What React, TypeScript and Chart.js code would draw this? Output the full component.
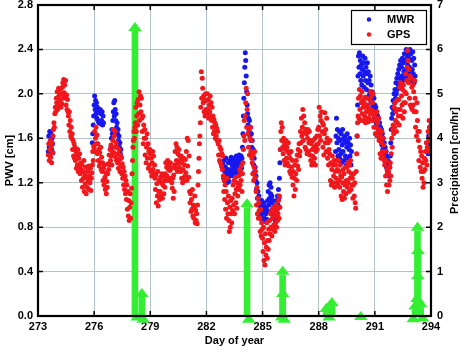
import { useEffect, useRef } from 'react';
import { Chart, registerables } from 'chart.js';

Chart.register(...registerables);

// ---- data -----------------------------------------------------------------

// GPS precipitable water vapour [cm], one sample every 0.025 day from day 273.55
const GPS_FIRST_DAY = 273.55;
const GPS_STEP = 0.025;
const gpsPwv = [
  // 273
  1.45, 1.55, 1.40, 1.50, 1.58, 1.43, 1.52, 1.38, 1.56, 1.47, 1.62,
  1.68, 1.74, 1.70, 1.82, 1.88, 1.84, 1.96,
  // 274
  1.92, 2.02, 1.86, 1.97, 2.05, 1.89, 1.99, 1.94, 2.04, 1.88, 2.00, 1.91, 2.06,
  2.10, 1.96, 2.13, 2.01, 2.08, 1.98, 2.12,
  1.90, 1.99, 1.86, 1.95, 1.84,
  1.80, 1.72, 1.84, 1.66, 1.76, 1.62, 1.70, 1.60,
  1.64, 1.50, 1.58, 1.44, 1.55, 1.42, 1.52,
  // 275
  1.40, 1.48, 1.33, 1.45, 1.36, 1.50, 1.30, 1.42, 1.35, 1.46, 1.28, 1.38, 1.32,
  1.22, 1.36, 1.16, 1.30, 1.24, 1.40, 1.12, 1.27, 1.19, 1.34, 1.10, 1.25,
  1.16, 1.30, 1.22, 1.35, 1.14, 1.26, 1.20, 1.33, 1.13, 1.24, 1.29,
  1.36, 1.48, 1.40, 1.53,
  // 276
  1.52, 1.66, 1.48, 1.60, 1.70, 1.55, 1.63,
  1.46, 1.55, 1.40, 1.50, 1.35, 1.47, 1.38, 1.52, 1.32, 1.43,
  1.30, 1.38, 1.22, 1.33, 1.18, 1.36, 1.25, 1.14, 1.29, 1.10, 1.21, 1.16,
  1.28, 1.37, 1.32, 1.45, 1.36, 1.50, 1.40, 1.54, 1.44, 1.36, 1.48,
  // 277
  1.58, 1.68, 1.47, 1.62, 1.52, 1.66, 1.43, 1.56, 1.40,
  1.52, 1.38, 1.46, 1.33, 1.50, 1.41, 1.30, 1.45, 1.35, 1.42, 1.28, 1.37,
  1.24, 1.34, 1.18, 1.30, 1.14, 1.26, 1.10, 1.22,
  1.05, 1.18, 0.96, 1.12, 0.90, 1.04, 0.86, 0.98, 1.10, 0.88, 1.02,
  // 278
  1.15, 1.28, 1.40, 1.52,
  1.58, 1.66, 1.60, 1.70,
  1.74, 1.88, 1.66, 1.80, 1.92, 1.72,
  1.95, 1.82, 2.02, 1.76, 1.90, 1.98, 1.84, 1.96, 1.78,
  1.66, 1.80, 1.55, 1.72, 1.60, 1.68,
  1.45, 1.60, 1.38, 1.52, 1.64, 1.42, 1.55, 1.33, 1.48, 1.36, 1.50,
  // 279
  1.46, 1.30, 1.42, 1.26, 1.38, 1.48, 1.32, 1.44, 1.28, 1.36, 1.24,
  1.14, 1.27, 1.02, 1.19, 1.08, 1.30, 0.99, 1.12, 1.22, 1.05,
  1.12, 1.25, 1.08, 1.20, 1.28, 1.06, 1.18, 1.26, 1.10, 1.22, 1.16,
  1.28, 1.38, 1.22, 1.34, 1.26, 1.40, 1.24, 1.32,
  // 280
  1.36, 1.22, 1.31, 1.38, 1.24, 1.33, 1.20,
  1.15, 1.24, 1.06, 1.27, 1.12,
  1.36, 1.48, 1.33, 1.55, 1.40, 1.52, 1.30, 1.46, 1.38, 1.50, 1.34, 1.44, 1.40,
  1.30, 1.44, 1.24, 1.38, 1.20, 1.32, 1.42, 1.22, 1.36, 1.26, 1.41,
  1.29, 1.48, 1.22, 1.60,
  // 281
  1.35, 1.58, 1.25, 1.44,
  1.12, 1.02, 1.10, 0.94, 1.05, 0.96, 1.14, 0.90, 1.00, 0.88, 0.98, 1.08, 0.84, 0.95, 0.86, 0.92, 0.83,
  1.00, 1.18, 1.30, 1.42, 1.55, 1.62, 1.74,
  1.88, 2.20, 1.96, 2.14, 2.05, 1.92,
  1.98, 1.84, 1.94, 1.80, 2.00, 1.86,
  // 282
  1.94, 1.82, 2.00, 1.86, 1.95, 1.78, 1.90, 1.84, 1.98, 1.80, 1.92, 1.76, 1.88,
  1.70, 1.80, 1.64, 1.77, 1.66, 1.74, 1.60, 1.72, 1.62, 1.69, 1.58, 1.66,
  1.55, 1.45, 1.58, 1.40, 1.52, 1.38, 1.50, 1.35, 1.46, 1.32, 1.44,
  1.26, 1.12, 1.22, 1.05,
  // 283
  1.18, 0.96, 1.12, 0.88, 1.24, 1.02, 0.92, 1.08,
  0.86, 0.76, 0.98, 0.80, 1.04, 0.92, 0.84,
  1.06, 0.95, 1.18, 1.00, 1.22, 0.92, 1.10, 1.25, 1.02, 1.14, 0.97, 1.20, 1.08, 1.16,
  1.26, 1.14, 1.32, 1.18, 1.30, 1.22, 1.35, 1.12, 1.28,
  1.38, 1.50,
  // 284
  1.62, 1.76, 1.58, 1.80,
  1.92, 2.05, 1.70, 1.86, 2.00, 1.64,
  1.52, 1.68, 1.45, 1.60, 1.70, 1.48, 1.58, 1.42,
  1.38, 1.28, 1.45, 1.22, 1.34, 1.48, 1.25, 1.30,
  1.12, 1.00, 1.16, 0.92, 1.06, 0.88, 1.02, 0.95,
  0.88, 0.76, 0.96, 0.72, 0.84, 0.78,
  // 285
  0.70, 0.58, 0.80, 0.50, 0.66, 0.46, 0.74, 0.55, 0.62, 0.84, 0.52, 0.68, 0.60,
  0.78, 0.68, 0.86, 0.74, 0.92, 0.80, 0.95, 0.72, 0.88, 0.78, 0.98, 0.82, 0.94, 0.76, 0.90, 0.84, 1.00, 0.80, 0.96, 0.86,
  0.92, 1.04, 0.88, 1.08, 0.98,
  1.50, 1.66,
  // 286
  1.74, 1.58, 1.70, 1.52,
  1.46, 1.60, 1.40, 1.55, 1.36, 1.50, 1.58, 1.42, 1.52, 1.38, 1.48, 1.56, 1.35,
  1.46, 1.30, 1.42, 1.28, 1.48, 1.34, 1.25, 1.40,
  1.18, 1.30, 1.08, 1.24, 1.36, 1.14, 1.28, 1.40, 1.22, 1.45,
  1.35, 1.50, 1.32, 1.55, 1.44,
  // 287
  1.48, 1.66, 1.56, 1.78, 1.62, 1.70, 1.86, 1.58, 1.80, 1.65, 1.74, 1.52, 1.68,
  1.50, 1.64, 1.46, 1.60, 1.68, 1.48, 1.56, 1.66, 1.45, 1.58,
  1.40, 1.55, 1.36, 1.50, 1.44, 1.58, 1.38, 1.52, 1.42, 1.60, 1.36, 1.48, 1.54,
  1.62, 1.50, 1.68, 1.55,
  // 288
  1.70, 1.88, 1.62, 1.80, 1.58, 1.76, 1.84, 1.66, 1.74,
  1.52, 1.72, 1.45, 1.64, 1.83, 1.56, 1.68, 1.48, 1.78, 1.60,
  1.42, 1.56, 1.36, 1.50, 1.46, 1.58,
  1.22, 1.38, 1.18, 1.32, 1.44, 1.20, 1.36, 1.26, 1.40, 1.16, 1.30,
  1.36, 1.24, 1.40, 1.20,
  // 289
  1.32, 1.18, 1.40, 1.22, 1.30, 1.16, 1.36, 1.26,
  1.08, 1.25, 1.05, 1.20, 1.32, 1.12, 1.28, 1.06, 1.18, 1.34, 1.10, 1.22,
  1.34, 1.16, 1.38, 1.20, 1.30, 1.12, 1.36, 1.24, 1.40, 1.14, 1.28, 1.18,
  1.24, 1.06, 1.18, 1.28, 1.08, 1.20, 1.02, 0.97,
  // 290
  1.30, 1.46, 1.62, 1.74,
  1.80, 1.96, 1.78, 2.04, 1.86, 1.98, 1.76, 1.92, 2.02, 1.82, 1.94, 1.88,
  1.76, 1.92, 1.80, 1.97, 1.74, 1.88, 1.84, 1.96, 1.78, 1.90, 1.75, 1.86,
  1.78, 1.95, 1.82, 2.02, 1.86, 1.98, 1.76, 1.92, 2.00, 1.84,
  1.70, 1.80,
  // 291
  1.82, 1.64, 1.76, 1.70, 1.84, 1.62, 1.74, 1.66, 1.78,
  1.58, 1.68, 1.46, 1.62, 1.42, 1.56, 1.66, 1.48, 1.60, 1.44, 1.54, 1.40,
  1.36, 1.48, 1.26, 1.40, 1.18, 1.32, 1.12, 1.28,
  1.30, 1.18, 1.34, 1.22, 1.38, 1.26,
  1.46, 1.60, 1.52, 1.68, 1.72,
  // 292
  1.64, 1.88, 1.70, 1.92, 1.76, 1.84, 1.66, 1.94, 1.74, 1.86, 1.80, 1.95, 1.72,
  2.06, 1.86, 2.10, 1.80, 1.98, 1.90, 2.04, 1.78, 2.08, 1.92, 1.84, 2.02,
  1.92, 2.18, 2.00, 2.12, 2.24, 2.39, 2.30, 2.10, 2.22, 1.96, 2.16, 1.90,
  2.14, 1.88, 2.06,
  // 293
  1.86, 2.08, 1.90, 2.02, 1.84, 2.12, 1.96,
  1.70, 1.84, 1.62, 1.92, 1.76, 1.66,
  1.58, 1.40, 1.66, 1.52, 1.34, 1.48, 1.30, 1.44,
  1.24, 1.38, 1.16, 1.30, 1.20, 1.42,
  1.32, 1.48, 1.40, 1.56, 1.36, 1.52,
  1.50, 1.66, 1.58, 1.76, 1.48, 1.70, 1.62,
  // 294
  1.72,
];

// Microwave radiometer PWV [cm], sampled every 0.025 day, in runs where it was operating
const MWR_STEP = 0.025;
const mwrRunStarts = [273.55, 275.9, 276.9, 282.9, 288.9, 290.05, 293.85];
const mwrRunValues = [
  [1.48, 1.62, 1.52, 1.66, 1.46, 1.58, 1.64, 1.50, 1.60, 1.55, 1.47],
  [1.56, 1.64, 1.72, 1.80, 1.90, 1.98, 1.86, 1.94, 1.82, 1.92, 1.78, 1.88, 1.76, 1.85, 1.74, 1.83, 1.75, 1.86, 1.73, 1.82,
    1.76, 1.84, 1.72, 1.80, 1.74],
  [1.52, 1.60, 1.68, 1.64, 1.76, 1.84, 1.92, 1.80, 1.94, 1.86, 1.76, 1.82, 1.70, 1.74, 1.64, 1.68, 1.58, 1.62, 1.52, 1.56,
    1.46, 1.50, 1.43],
  [1.36, 1.24, 1.40, 1.30, 1.22, 1.34, 1.42, 1.28, 1.20, 1.32,
    1.24, 1.38, 1.21, 1.30, 1.26, 1.40, 1.32, 1.43, 1.28, 1.36,
    1.42, 1.30, 1.38, 1.26, 1.34, 1.40, 1.29, 1.36, 1.44, 1.32,
    1.38, 1.28, 1.42, 1.34, 1.45, 1.30, 1.40, 1.36, 1.44, 1.33,
    1.42, 1.52, 1.64, 1.80, 1.96, 2.10, 2.24, 2.37, 2.30, 2.16,
    2.02, 1.90, 1.82, 1.72, 1.78, 1.66, 1.76, 1.62, 1.70, 1.58,
    1.64, 1.52, 1.58, 1.44, 1.50, 1.36, 1.42, 1.30, 1.34, 1.22,
    1.26, 1.14, 1.20, 1.06, 1.12, 1.00, 1.08, 0.94, 1.02, 0.90,
    0.98, 0.88, 1.04, 0.92, 1.00, 0.86, 0.96, 1.02, 0.88, 0.94,
    0.85, 0.92, 0.98, 0.87, 0.95, 1.04, 1.12, 1.00, 1.18, 1.06,
    1.20, 1.10, 1.16, 1.02, 1.08, 0.96, 1.04, 0.90, 0.98, 0.88,
    0.94, 0.86, 1.00, 0.90, 1.04, 0.96, 1.08, 1.00, 1.14, 1.06,
    1.24, 1.38, 1.50],
  [1.48, 1.62, 1.78, 1.56, 1.68, 1.44, 1.60, 1.50, 1.66, 1.42,
    1.58, 1.46, 1.64, 1.38, 1.54, 1.68, 1.48, 1.60, 1.40, 1.56,
    1.62, 1.44, 1.58, 1.36, 1.52, 1.64, 1.42, 1.56, 1.38, 1.50,
    1.60, 1.44, 1.54, 1.36, 1.48],
  [1.62, 1.90, 2.16, 2.34, 2.24, 2.37, 2.18, 2.30, 2.12, 2.26,
    2.08, 2.22, 2.34, 2.16, 2.28, 2.06, 2.20, 2.32, 2.12, 2.24,
    2.04, 2.18, 2.28, 2.10, 2.20, 1.98, 2.12, 2.02, 2.16, 1.94,
    2.08, 1.92, 2.02, 1.88, 1.98, 1.86, 1.96, 1.80, 1.90, 1.78,
    1.88, 1.74, 1.84, 1.70, 1.80, 1.66, 1.78, 1.64, 1.74, 1.60,
    1.70, 1.58, 1.68, 1.54, 1.64, 1.50, 1.60, 1.46, 1.56, 1.42,
    1.52, 1.38, 1.48, 1.34, 1.44, 1.30, 1.40, 1.28, 1.36, 1.26,
    1.34, 1.44, 1.56, 1.68, 1.78, 1.88, 1.82, 1.94, 1.86, 2.00,
    1.92, 2.04, 1.96, 2.10, 2.00, 2.14, 2.04, 2.18, 2.08, 2.22,
    2.10, 2.26, 2.14, 2.30, 2.06, 2.24, 2.16, 2.32, 2.12, 2.28,
    2.20, 2.36, 2.14, 2.30, 2.22, 2.40, 2.18, 2.34, 2.26, 2.38,
    2.16, 2.32, 2.24, 2.40, 2.20, 2.36, 2.12, 2.30, 2.22, 2.38,
    2.18, 2.32, 2.10, 2.26, 2.16],
  [1.46, 1.62, 1.52, 1.70, 1.56, 1.66, 1.50],
];

// Precipitation events (day of year, rain rate in cm/hr)
const precipDays = [
  278.18, 278.3, 278.55, 278.62, 284.17, 284.26, 286.02, 286.07, 286.08, 286.16,
  288.4, 288.55, 288.7, 290.25, 293.05, 293.15, 293.25, 293.28, 293.3, 293.3, 293.45, 293.55,
];
const precipRates = [
  6.62, 0.1, 0.63, 0.05, 2.65, 0.05, 0.1, 1.13, 0.63, 0.05,
  0.29, 0.1, 0.43, 0.11, 0.06, 0.35, 0.52, 2.12, 1.6, 1.03, 0.4, 0.08,
];

// Axis ticks
const dayTicks = [273, 276, 279, 282, 285, 288, 291, 294];
const pwvTicks = [0, 0.4, 0.8, 1.2, 1.6, 2.0, 2.4, 2.8];
const rainTicks = [0, 1, 2, 3, 4, 5, 6, 7];
const legendOrder = ['MWR', 'GPS'];

// ---- styling ----------------------------------------------------------------

const FONT = "'Liberation Sans', Arial, Helvetica, sans-serif";
const MWR_COLOR = 'rgb(24, 24, 238)';
const GPS_COLOR = 'rgb(240, 24, 28)';
const RAIN_COLOR = 'rgb(52, 238, 52)';
const GRID_COLOR = '#b3c3c6';
const DOT_RADIUS = 2.5;

const gpsPoints = gpsPwv.map((v, i) => ({ x: GPS_FIRST_DAY + i * GPS_STEP, y: v }));
const mwrPoints = mwrRunStarts.flatMap((start, r) =>
  mwrRunValues[r].map((v, i) => ({ x: start + i * MWR_STEP, y: v })),
);
const rainPoints = precipDays.map((d, i) => ({ x: d, y: precipRates[i] }));

// Rain events are drawn as arrows rising from the axis to the rain rate.
const rainArrows = {
  id: 'rainArrows',
  beforeDatasetsDraw(chart: any) {
    const idx = chart.data.datasets.findIndex((d: any) => d.label === 'Precipitation');
    const meta = chart.getDatasetMeta(idx);
    const base = chart.scales.y2.getPixelForValue(0);
    const ctx = chart.ctx;
    const headH = 9;
    const headHalf = 6.8;
    const shaftHalf = 3.3;
    ctx.save();
    ctx.fillStyle = RAIN_COLOR;
    meta.data.forEach((pt: any) => {
      const x = pt.x;
      const tip = pt.y;
      const neck = tip + headH;
      if (neck < base) ctx.fillRect(x - shaftHalf, neck, shaftHalf * 2, base - neck);
      ctx.beginPath();
      ctx.moveTo(x, tip);
      ctx.lineTo(x + headHalf, neck);
      ctx.lineTo(x - headHalf, neck);
      ctx.closePath();
      ctx.fill();
    });
    ctx.restore();
  },
};

// Box frame with inward tick marks, legend and the right-hand axis title.
const frameAndLegend = {
  id: 'frameAndLegend',
  afterDatasetsDraw(chart: any) {
    const { ctx, chartArea: a, scales } = chart;
    ctx.save();
    ctx.strokeStyle = '#000';
    ctx.lineWidth = 1.5;
    ctx.beginPath();
    const t = 5;
    scales.x.ticks.forEach((tk: any) => {
      const px = scales.x.getPixelForValue(tk.value);
      ctx.moveTo(px, a.bottom);
      ctx.lineTo(px, a.bottom - t);
      ctx.moveTo(px, a.top);
      ctx.lineTo(px, a.top + t);
    });
    scales.y.ticks.forEach((tk: any) => {
      const py = scales.y.getPixelForValue(tk.value);
      ctx.moveTo(a.left, py);
      ctx.lineTo(a.left + t, py);
    });
    scales.y2.ticks.forEach((tk: any) => {
      const py = scales.y2.getPixelForValue(tk.value);
      ctx.moveTo(a.right, py);
      ctx.lineTo(a.right - t, py);
    });
    ctx.stroke();

    ctx.lineWidth = 2.2;
    ctx.strokeRect(a.left, a.top, a.right - a.left, a.bottom - a.top);

    // legend
    const entries = legendOrder
      .map((name) => chart.data.datasets.find((d: any) => d.label === name))
      .filter(Boolean);
    const bw = 75;
    const bh = 34;
    const bx = a.right - 5 - bw;
    const by = a.top + 5;
    ctx.fillStyle = '#fff';
    ctx.fillRect(bx, by, bw, bh);
    ctx.lineWidth = 1.2;
    ctx.strokeRect(bx + 0.5, by + 0.5, bw, bh);
    ctx.font = `bold 11px ${FONT}`;
    ctx.textBaseline = 'middle';
    ctx.textAlign = 'left';
    entries.forEach((d: any, i: number) => {
      const cy = by + 9.5 + i * 15;
      ctx.fillStyle = d.backgroundColor;
      ctx.beginPath();
      ctx.arc(bx + 18, cy, 2.2, 0, Math.PI * 2);
      ctx.fill();
      ctx.fillStyle = '#000';
      ctx.fillText(d.label, bx + 36, cy + 0.5);
    });

    // right axis title, reading upwards
    ctx.translate(chart.width - 6, (a.top + a.bottom) / 2);
    ctx.rotate(-Math.PI / 2);
    ctx.textAlign = 'center';
    ctx.fillStyle = '#000';
    ctx.fillText('Precipitation [cm/hr]', 0, 0);
    ctx.restore();
  },
};

const tickFont = { family: FONT, size: 11, weight: 'bold' as const };

export default function App() {
  const canvasRef = useRef<HTMLCanvasElement | null>(null);

  useEffect(() => {
    if (!canvasRef.current) return;
    const chart = new Chart(canvasRef.current, {
      type: 'scatter',
      data: {
        datasets: [
          {
            label: 'GPS',
            data: gpsPoints,
            backgroundColor: GPS_COLOR,
            pointRadius: DOT_RADIUS,
            pointBorderWidth: 0,
            order: 0,
          },
          {
            label: 'MWR',
            data: mwrPoints,
            backgroundColor: MWR_COLOR,
            pointRadius: DOT_RADIUS,
            pointBorderWidth: 0,
            order: 1,
          },
          {
            label: 'Precipitation',
            data: rainPoints,
            yAxisID: 'y2',
            backgroundColor: RAIN_COLOR,
            pointRadius: 0,
            order: 2,
          },
        ],
      },
      options: {
        responsive: false,
        animation: false,
        layout: { padding: { top: 5, left: 0, right: 0, bottom: 0 } },
        plugins: { legend: { display: false }, tooltip: { enabled: false } },
        scales: {
          x: {
            type: 'linear',
            min: 273,
            max: 294,
            afterBuildTicks: (s: any) => {
              s.ticks = dayTicks.map((value) => ({ value }));
            },
            afterFit: (s: any) => {
              s.height = 34;
              s.paddingLeft = 0;
              s.paddingRight = 0;
            },
            grid: { color: GRID_COLOR, lineWidth: 1, drawTicks: false },
            border: { display: false },
            ticks: { color: '#000', font: tickFont, padding: 4, maxRotation: 0, autoSkip: false },
            title: {
              display: true,
              text: 'Day of year',
              color: '#000',
              font: tickFont,
              padding: { top: 2, bottom: 2 },
            },
          },
          y: {
            type: 'linear',
            position: 'left',
            min: 0,
            max: 2.8,
            afterBuildTicks: (s: any) => {
              s.ticks = pwvTicks.map((value) => ({ value }));
            },
            afterFit: (s: any) => {
              s.width = 38;
              s.paddingTop = 0;
              s.paddingBottom = 0;
            },
            grid: { color: GRID_COLOR, lineWidth: 1, drawTicks: false },
            border: { display: false },
            ticks: {
              color: '#000',
              font: tickFont,
              padding: 5,
              callback: (v: any) => Number(v).toFixed(1),
            },
            title: {
              display: true,
              text: 'PWV [cm]',
              color: '#000',
              font: tickFont,
              padding: { top: 3, bottom: 0 },
            },
          },
          y2: {
            type: 'linear',
            position: 'right',
            min: 0,
            max: 7,
            afterBuildTicks: (s: any) => {
              s.ticks = rainTicks.map((value) => ({ value }));
            },
            afterFit: (s: any) => {
              s.width = 30;
              s.paddingTop = 0;
              s.paddingBottom = 0;
            },
            grid: { drawOnChartArea: false, drawTicks: false },
            border: { display: false },
            ticks: { color: '#000', font: tickFont, padding: 6 },
          },
        },
      },
      plugins: [rainArrows, frameAndLegend],
    });
    return () => chart.destroy();
  }, []);

  return (
    <div style={{ position: 'absolute', left: 0, top: 0, width: 461, height: 350, background: '#fff' }}>
      <canvas ref={canvasRef} width={461} height={350} style={{ display: 'block' }} />
    </div>
  );
}
